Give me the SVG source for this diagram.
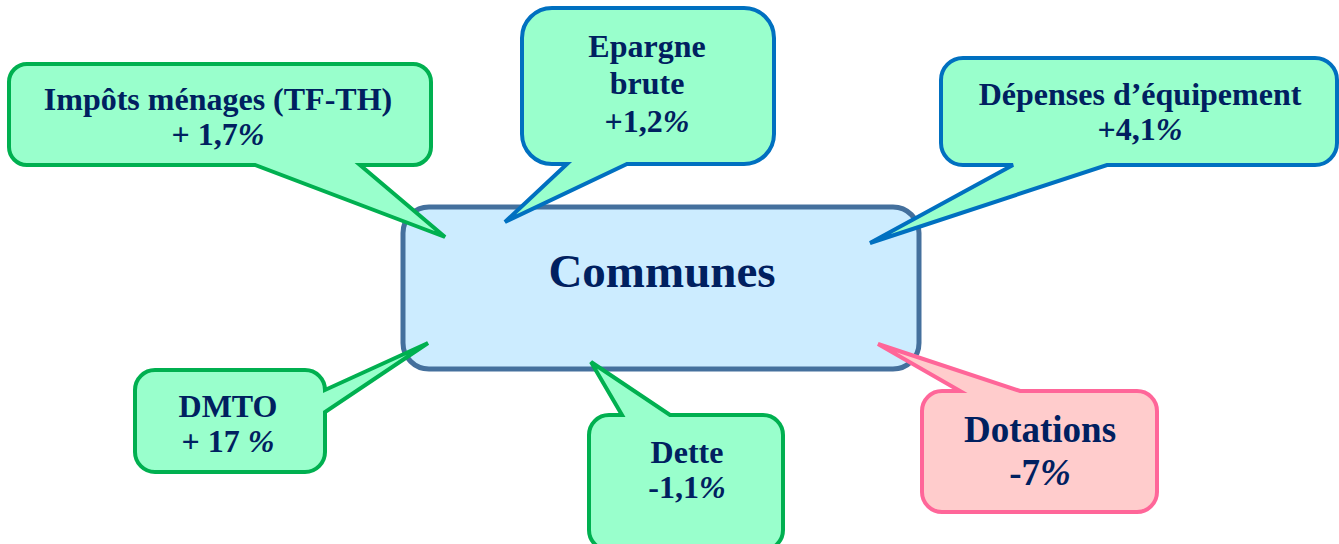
<svg xmlns="http://www.w3.org/2000/svg" width="1339" height="544" viewBox="0 0 1339 544">
<style>
.t{font-family:"Liberation Serif","Times New Roman",serif;font-weight:bold;fill:#002060;text-anchor:middle}
.s{font-size:32px}
.g{fill:#99FFCC;stroke:#00B050;stroke-width:4;stroke-linejoin:miter}
.b{fill:#99FFCC;stroke:#0070C0;stroke-width:4;stroke-linejoin:miter}
.p{fill:#FFCCCC;stroke:#FF6699;stroke-width:4;stroke-linejoin:miter}
.i{font-style:italic}
</style>
<rect width="1339" height="544" fill="#FFFFFF"/>
<g id="communes">
<rect x="403" y="207" width="516" height="162" rx="26" ry="26" fill="#CCECFF" stroke="#44709D" stroke-width="5"/>
<text class="t" x="662" y="287" font-size="47">Communes</text>
</g>
<g id="connectors"></g>
<g id="impots">
<path class="g" d="M27,64 H413 A18,18 0 0 1 431,82 V147 A18,18 0 0 1 413,165 H360 L445,237 L255,165 H27 A18,18 0 0 1 9,147 V82 A18,18 0 0 1 27,64 Z"/>
<text class="t s" x="218" y="110">Impôts ménages (TF-TH)</text>
<text class="t s" x="218" y="145">+ 1,7<tspan class="i">%</tspan></text>
</g>
<g id="epargne">
<path class="b" d="M552,8 H744 A30,30 0 0 1 774,38 V134 A30,30 0 0 1 744,164 H627 L505,222 L567,164 H552 A30,30 0 0 1 522,134 V38 A30,30 0 0 1 552,8 Z"/>
<text class="t s" x="647" y="57">Epargne</text>
<text class="t s" x="647" y="94">brute</text>
<text class="t s" x="647" y="132">+1,2<tspan class="i">%</tspan></text>
</g>
<g id="depenses">
<path class="b" d="M963,58 H1315 A22,22 0 0 1 1337,80 V143 A22,22 0 0 1 1315,165 H1107 L870,243 L1013,165 H963 A22,22 0 0 1 941,143 V80 A22,22 0 0 1 963,58 Z"/>
<text class="t s" x="1140" y="105">Dépenses d’équipement</text>
<text class="t s" x="1140" y="140">+4,1<tspan class="i">%</tspan></text>
</g>
<g id="dmto">
<path class="g" d="M155,370 H305 A20,20 0 0 1 325,390 L428,343 L325,412 V452 A20,20 0 0 1 305,472 H155 A20,20 0 0 1 135,452 V390 A20,20 0 0 1 155,370 Z"/>
<text class="t s" x="228" y="417">DMTO</text>
<text class="t s" x="228" y="452">+ 17 <tspan class="i">%</tspan></text>
</g>
<g id="dette">
<path class="g" d="M609,415 H622 L591,362 L670,415 H763 A20,20 0 0 1 783,435 V530 A20,20 0 0 1 763,550 H609 A20,20 0 0 1 589,530 V435 A20,20 0 0 1 609,415 Z"/>
<text class="t s" x="687" y="463">Dette</text>
<text class="t s" x="687" y="498">-1,1<tspan class="i">%</tspan></text>
</g>
<g id="dotations">
<path class="p" d="M942,391 H960 L878,344 L1020,391 H1137 A20,20 0 0 1 1157,411 V492 A20,20 0 0 1 1137,512 H942 A20,20 0 0 1 922,492 V411 A20,20 0 0 1 942,391 Z"/>
<text class="t" x="1040" y="442" font-size="37">Dotations</text>
<text class="t" x="1040" y="485" font-size="37">-7<tspan class="i">%</tspan></text>
</g>
</svg>
